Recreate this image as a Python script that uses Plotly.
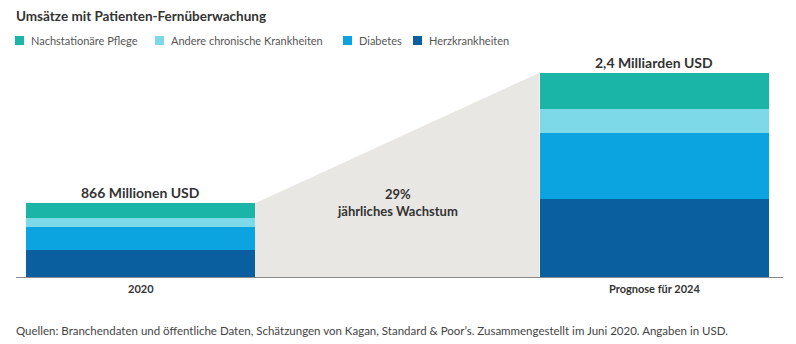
import plotly.graph_objects as go

# Revenue from remote patient monitoring, in million USD
periods = ["2020", "Prognose für 2024"]
herz = [317, 915]
diabetes = [274, 775]
andere = [99, 285]
pflege = [176, 425]
totals = [866, 2400]
total_labels = ["866 Millionen USD", "2,4 Milliarden USD"]
growth_label = "29%<br>jährliches Wachstum"

series = [
    ("Herzkrankheiten", herz, "#0a5f9e"),
    ("Diabetes", diabetes, "#0ca4e0"),
    ("Andere chronische Krankheiten", andere, "#7dd8e7"),
    ("Nachstationäre Pflege", pflege, "#1bb5a7"),
]
legend_order = [3, 2, 1, 0]

FONT = "Lato"
TXT = "#333333"
xs = [0, 1]
bar_w = 0.446
half = bar_w / 2

# plot area in pixels: left 16, width 767, top 60, height 217
PL, PW, PT, PH = 16, 767, 60, 217


def px(xp):
    return (xp - PL) / PW


def py(yp):
    return (PT + PH - yp) / PH


fig = go.Figure()

# growth wedge between the two bars
fig.add_trace(go.Scatter(
    x=[xs[0] + half, xs[1] - half, xs[1] - half, xs[0] + half, xs[0] + half],
    y=[totals[0], totals[1], 0, 0, totals[0]],
    mode="lines", fill="toself", fillcolor="#e9e7e3",
    line=dict(width=0), hoverinfo="skip", showlegend=False,
))

for name, vals, color in series:
    fig.add_trace(go.Bar(
        x=xs, y=vals, name=name, width=bar_w,
        marker=dict(color=color, line=dict(width=0)),
        showlegend=False,
    ))

# total labels above the bars
for x, t, lab in zip(xs, totals, total_labels):
    fig.add_annotation(x=x, y=t, text=f"<b>{lab}</b>", showarrow=False,
                       yanchor="bottom", yshift=0,
                       font=dict(family=FONT, size=14, color=TXT))

fig.add_annotation(x=(xs[0] + xs[1]) / 2, y=totals[0], text=f"<b>{growth_label}</b>",
                   showarrow=False, yanchor="middle", yshift=1,
                   font=dict(family=FONT, size=13, color=TXT))

# category labels below the baseline
for x, p in zip(xs, periods):
    fig.add_annotation(x=x, y=0, text=f"<b>{p}</b>", showarrow=False,
                       yanchor="top", yshift=-3,
                       font=dict(family=FONT, size=11, color=TXT))

# title
fig.add_annotation(xref="paper", yref="paper", x=px(14), y=py(16), xanchor="left", yanchor="middle",
                   text="<b>Umsätze mit Patienten-Fernüberwachung</b>", showarrow=False,
                   font=dict(family=FONT, size=13.5, color=TXT))

# legend row
legend_x = [15, 155, 343, 413]
for lx, idx in zip(legend_x, legend_order):
    name, _, color = series[idx]
    fig.add_shape(type="rect", xref="paper", yref="paper",
                  x0=px(lx), x1=px(lx + 9), y0=py(45), y1=py(36),
                  fillcolor=color, line=dict(width=0))
    fig.add_annotation(xref="paper", yref="paper", x=px(lx + 14), y=py(40.5),
                       xanchor="left", yanchor="middle", text=name, showarrow=False,
                       font=dict(family=FONT, size=11, color="#555555"))

# source note
fig.add_annotation(xref="paper", yref="paper", x=px(14), y=py(330),
                   xanchor="left", yanchor="middle", showarrow=False,
                   text="Quellen: Branchendaten und öffentliche Daten, Schätzungen von Kagan, "
                        "Standard & Poor’s. Zusammengestellt im Juni 2020. Angaben in USD.",
                   font=dict(family=FONT, size=11.5, color="#444444"))

fig.update_layout(
    width=796, height=344,
    margin=dict(l=PL, r=796 - PL - PW, t=PT, b=344 - PT - PH),
    barmode="stack", bargap=0,
    plot_bgcolor="white", paper_bgcolor="white",
    showlegend=False,
    xaxis=dict(range=[-0.2425, 1.2512], showticklabels=False, showgrid=False,
               zeroline=False, showline=False, fixedrange=True),
    yaxis=dict(range=[0, 2550], showticklabels=False, showgrid=False,
               zeroline=True, zerolinecolor="#8a8a8a", zerolinewidth=1,
               showline=False, fixedrange=True),
)

fig.write_html("out.html")
